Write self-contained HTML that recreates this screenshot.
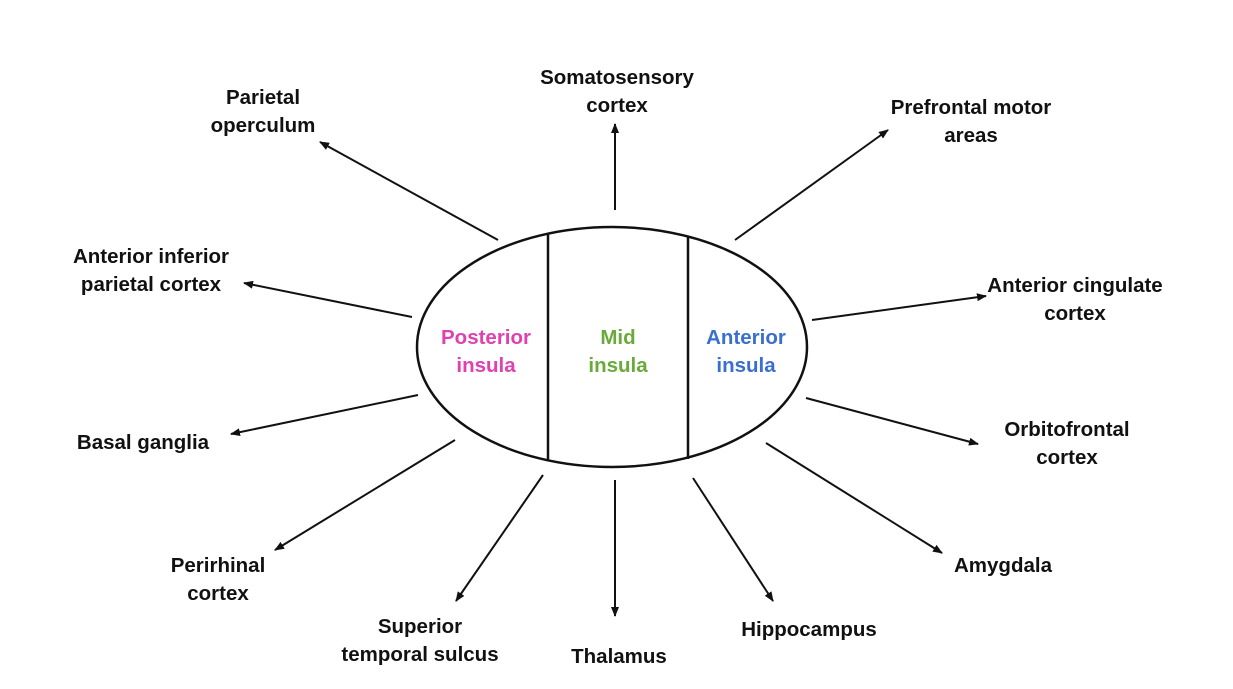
<!DOCTYPE html>
<html><head><style>
html,body{margin:0;padding:0;background:#fff;}
svg text{font-family:"Liberation Sans",sans-serif;font-weight:bold;font-size:20.5px;fill:#111;text-anchor:middle;}
</style></head><body>
<svg width="1233" height="684" viewBox="0 0 1233 684" xmlns="http://www.w3.org/2000/svg">
<defs><marker id="a" markerWidth="10" markerHeight="8" refX="9" refY="4" orient="auto" markerUnits="userSpaceOnUse"><path d="M0,0 L10,4 L0,8 z" fill="#111"/></marker></defs>
<ellipse cx="612" cy="347" rx="195" ry="120" fill="none" stroke="#111" stroke-width="2.5"/>
<line x1="548" y1="233" x2="548" y2="461" stroke="#111" stroke-width="2.5"/>
<line x1="688" y1="236" x2="688" y2="459" stroke="#111" stroke-width="2.5"/>
<g stroke="#111" stroke-width="2" marker-end="url(#a)">
<line x1="498" y1="240" x2="320" y2="142"/>
<line x1="615" y1="210" x2="615" y2="124"/>
<line x1="735" y1="240" x2="888" y2="130"/>
<line x1="412" y1="317" x2="244" y2="283"/>
<line x1="812" y1="320" x2="986" y2="296"/>
<line x1="418" y1="395" x2="231" y2="434"/>
<line x1="806" y1="398" x2="978" y2="444"/>
<line x1="455" y1="440" x2="275" y2="550"/>
<line x1="766" y1="443" x2="942" y2="553"/>
<line x1="543" y1="475" x2="456" y2="601"/>
<line x1="615" y1="480" x2="615" y2="616"/>
<line x1="693" y1="478" x2="773" y2="601"/>
</g>
<text x="486" y="344" style="fill:#e040b0">Posterior</text>
<text x="486" y="372" style="fill:#e040b0">insula</text>
<text x="618" y="344" style="fill:#6aaa3a">Mid</text>
<text x="618" y="372" style="fill:#6aaa3a">insula</text>
<text x="746" y="344" style="fill:#3a6fd0">Anterior</text>
<text x="746" y="372" style="fill:#3a6fd0">insula</text>
<text x="263" y="104">Parietal</text>
<text x="263" y="132">operculum</text>
<text x="617" y="84">Somatosensory</text>
<text x="617" y="112">cortex</text>
<text x="971" y="114">Prefrontal motor</text>
<text x="971" y="142">areas</text>
<text x="151" y="263">Anterior inferior</text>
<text x="151" y="291">parietal cortex</text>
<text x="1075" y="292">Anterior cingulate</text>
<text x="1075" y="320">cortex</text>
<text x="143" y="449">Basal ganglia</text>
<text x="1067" y="436">Orbitofrontal</text>
<text x="1067" y="464">cortex</text>
<text x="218" y="572">Perirhinal</text>
<text x="218" y="600">cortex</text>
<text x="1003" y="572">Amygdala</text>
<text x="420" y="633">Superior</text>
<text x="420" y="661">temporal sulcus</text>
<text x="619" y="663">Thalamus</text>
<text x="809" y="636">Hippocampus</text>
</svg>
</body></html>
